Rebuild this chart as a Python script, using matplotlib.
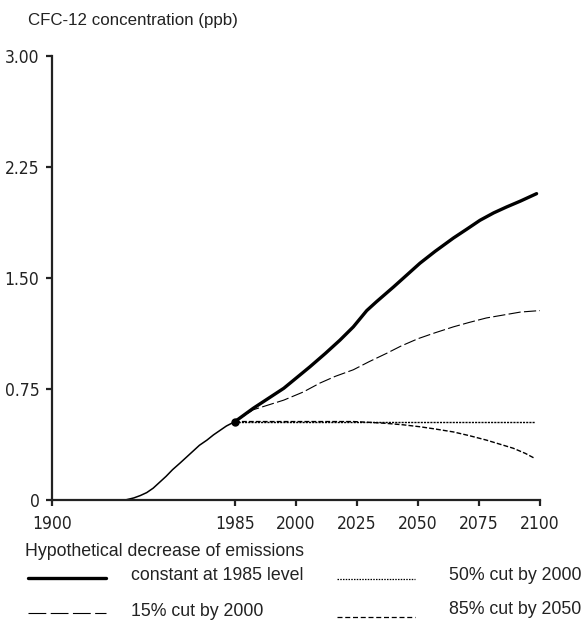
"""
CFC-12 concentration under several emission scenarios, 1900-2100.
"""

import numpy as np
import matplotlib
matplotlib.use("Agg")
import matplotlib.pyplot as plt
from matplotlib import font_manager
from matplotlib.lines import Line2D

# =========================================================
# Data (ppb)
# =========================================================
HIST_YEARS = [1900, 1934, 1938, 1941, 1944, 1947, 1950, 1953, 1956, 1959.5,
              1962.5, 1965.5, 1968.5, 1972, 1975, 1978, 1981, 1985]
HIST_PPB = [0.0, 0.0, 0.014, 0.03, 0.05, 0.08, 0.12, 0.16, 0.205, 0.25,
            0.29, 0.33, 0.37, 0.405, 0.44, 0.47, 0.50, 0.53]

CONST_YEARS = [1985, 1989.5, 1997, 2005.7, 2012, 2018, 2023.5, 2029, 2033,
               2040, 2050.8, 2057, 2064.5, 2070, 2075.4, 2081, 2086.3, 2092,
               2098.6]
CONST_PPB = [0.53, 0.62, 0.755, 0.90, 0.99, 1.08, 1.17, 1.28, 1.34,
             1.44, 1.60, 1.68, 1.77, 1.83, 1.89, 1.94, 1.98, 2.02, 2.07]

CUT15_YEARS = [1985, 1989.5, 1997, 2003, 2009.8, 2016, 2023.5, 2030, 2037,
               2043, 2050, 2057, 2064.5, 2071, 2078, 2085, 2092, 2100]
CUT15_PPB = [0.53, 0.61, 0.675, 0.73, 0.79, 0.835, 0.88, 0.935, 0.99,
             1.04, 1.09, 1.13, 1.17, 1.20, 1.23, 1.25, 1.27, 1.28]

CUT50_YEARS = [1985, 2098]
CUT50_PPB = [0.53, 0.53]

CUT85_YEARS = [1985, 2023.5, 2030, 2037, 2044, 2050.8, 2057, 2064.5, 2071,
               2078, 2083, 2089, 2094, 2098]
CUT85_PPB = [0.53, 0.53, 0.525, 0.518, 0.508, 0.495, 0.48, 0.46, 0.435,
             0.405, 0.38, 0.35, 0.315, 0.28]

REF_YEAR, REF_PPB = 1985, 0.53

X_TICKS = [1900, 1985, 2000, 2025, 2050, 2075, 2100]
Y_TICKS = [0, 0.75, 1.50, 2.25, 3.00]
Y_TICKLABELS = ["0", "0.75", "1.50", "2.25", "3.00"]

# piecewise time axis: the historical period is compressed
YEAR_KNOTS = [1900, 1985, 2000, 2100]
POS_KNOTS = [0.0, 0.375, 0.5, 1.0]


def fwd(x):
    return np.interp(x, YEAR_KNOTS, POS_KNOTS)


def inv(x):
    return np.interp(x, POS_KNOTS, YEAR_KNOTS)


# =========================================================
# Fonts: narrow face for the tick labels if one is installed
# =========================================================
plt.rcParams["font.family"] = ["Liberation Sans", "DejaVu Sans"]
INK = "#222222"


def find_narrow():
    fonts = font_manager.fontManager.ttflist
    for f in fonts:
        if f.name == "Liberation Sans Narrow" and f.style == "normal" \
                and f.weight in (400, "normal", "regular"):
            return f.fname
    for f in fonts:
        if f.name == "DejaVu Sans" and f.stretch == "condensed" \
                and f.style == "normal" and f.weight in (400, "normal", "book"):
            return f.fname
    return None


narrow_path = find_narrow()
if narrow_path:
    tick_fp = font_manager.FontProperties(fname=narrow_path, size=12.5)
else:
    tick_fp = font_manager.FontProperties(family="Liberation Sans", size=12)

# =========================================================
# Styles
# =========================================================
STY_HIST = dict(color="black", lw=1.1, solid_capstyle="round",
                solid_joinstyle="round")
STY_CONST = dict(color="black", lw=2.4, solid_capstyle="round",
                 solid_joinstyle="round")
STY_15 = dict(color="black", lw=0.8, dashes=(11, 3))
STY_50 = dict(color="black", lw=1.0, dashes=(1.5, 0.8))
STY_85 = dict(color="black", lw=1.0, dashes=(3.5, 1.5))

# legend samples use slightly different dash patterns
LEG_15 = dict(color="black", lw=0.8, dashes=(16, 4))
LEG_50 = dict(color="black", lw=0.9, dashes=(1.2, 1.0))
LEG_85 = dict(color="black", lw=0.9, dashes=(4, 2.2))

# =========================================================
# Plot
# =========================================================
fig = plt.figure(figsize=(5.86, 6.28), dpi=100)
ax = fig.add_axes([0.0887, 0.2038, 0.8328, 0.7070])
ax.set_xscale("function", functions=(fwd, inv))

ax.plot(HIST_YEARS, HIST_PPB, **STY_HIST)
ax.plot(CUT50_YEARS, CUT50_PPB, **STY_50)
ax.plot(CUT85_YEARS, CUT85_PPB, **STY_85)
ax.plot(CUT15_YEARS, CUT15_PPB, **STY_15)
ax.plot(CONST_YEARS, CONST_PPB, **STY_CONST)
ax.plot([REF_YEAR], [REF_PPB], "o", color="black", ms=5, zorder=5)

ax.set_xlim(1900, 2100)
ax.set_ylim(0, 3.0)
ax.set_xticks(X_TICKS)
ax.set_xticklabels([str(t) for t in X_TICKS])
ax.set_yticks(Y_TICKS)
ax.set_yticklabels(Y_TICKLABELS)

for side in ["top", "right"]:
    ax.spines[side].set_visible(False)
for side in ["left", "bottom"]:
    ax.spines[side].set_linewidth(1.6)
    ax.spines[side].set_color(INK)
ax.tick_params(axis="both", direction="out", length=4, width=1.6,
               color=INK, labelcolor=INK)
ax.tick_params(axis="x", pad=7)
ax.tick_params(axis="y", pad=5)
for lab in ax.get_xticklabels() + ax.get_yticklabels():
    lab.set_fontproperties(tick_fp)

fig.text(28 / 586, 1 - 20 / 628, "CFC-12 concentration (ppb)",
         fontsize=12.2, va="center", ha="left", color=INK)

# ----- Legend -----
def fx(px):
    return px / 586


def fy(py):
    return 1 - py / 628


fig.text(fx(25), fy(551), "Hypothetical decrease of emissions",
         fontsize=12.8, va="center", ha="left", color=INK)

# (style, label, sample x0, sample y, text x, text y)
legend_rows = [
    (STY_CONST, "constant at 1985 level", 28, 578, 131, 576),
    (LEG_50, "50% cut by 2000", 337, 579, 449, 575),
    (LEG_15, "15% cut by 2000", 28, 613, 131, 611),
    (LEG_85, "85% cut by 2050", 337, 617, 449, 610),
]
for sty, label, x0, y0, tx, ty in legend_rows:
    fig.add_artist(Line2D([fx(x0), fx(x0 + 78)], [fy(y0), fy(y0)],
                          transform=fig.transFigure, **sty))
    fig.text(fx(tx), fy(ty), label, fontsize=12.8,
             va="center", ha="left", color=INK)

fig.savefig("out.png", dpi=100)
